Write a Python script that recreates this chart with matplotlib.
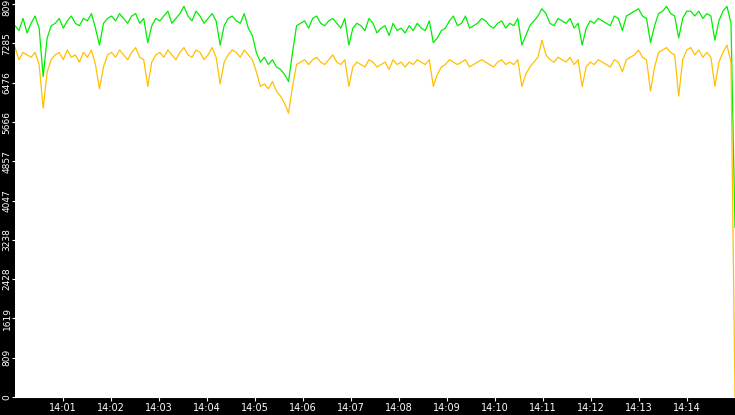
import numpy as np
import matplotlib.pyplot as plt

# samples every 5 s from 14:00:00
orange = [7200, 6950, 7100, 7050, 7000, 7100, 6850, 5950, 6700, 6950,
          7050, 7100, 6950, 7150, 7000, 7050, 6900, 7100, 7000, 7150,
          6850, 6350, 6800, 7050, 7100, 7000, 7150, 7050, 6950, 7100,
          7200, 7000, 6950, 6400, 6900, 7050, 7100, 7000, 7150, 7050,
          6950, 7100, 7200, 7050, 7000, 7150, 7100, 6950, 7050, 7200,
          7000, 6450, 6900, 7050, 7150, 7100, 7000, 7150, 7050, 6950,
          6700, 6400, 6450, 6350, 6500, 6300, 6200, 6050, 5850, 6400,
          6850, 6900, 6950, 6850, 6950, 7000, 6900, 6850, 6950, 7050,
          6900, 6850, 6950, 6400, 6800, 6900, 6850, 6800, 6950, 6900,
          6800, 6850, 6900, 6750, 6950, 6850, 6900, 6800, 6900, 6850,
          6950, 6900, 6850, 6950, 6400, 6650, 6800, 6850, 6950, 6900,
          6850, 6900, 6950, 6800, 6850, 6900, 6950, 6900, 6850, 6800,
          6900, 6950, 6850, 6900, 6850, 6950, 6400, 6650, 6800, 6900,
          7000, 7350, 7050, 6950, 6900, 7000, 6950, 6900, 7000, 6850,
          6950, 6400, 6800, 6900, 6850, 6950, 6900, 6850, 6800, 6950,
          6900, 6700, 6950, 7000, 7050, 7150, 7000, 6950, 6300, 6800,
          7100, 7150, 7200, 7100, 7050, 6200, 6950, 7150, 7200, 7050,
          7150, 7000, 7100, 7000, 6400, 6900, 7100, 7250, 6900, 0]
green = [7650, 7550, 7800, 7500, 7700, 7850, 7600, 6600, 7400, 7650,
         7700, 7800, 7600, 7750, 7850, 7700, 7650, 7800, 7750, 7900,
         7600, 7250, 7700, 7800, 7850, 7750, 7900, 7800, 7700, 7850,
         7900, 7700, 7800, 7300, 7650, 7800, 7750, 7850, 7950, 7700,
         7800, 7900, 8050, 7850, 7750, 7950, 7850, 7700, 7800, 7900,
         7750, 7250, 7650, 7800, 7850, 7750, 7700, 7900, 7600, 7450,
         7100, 6900, 7000, 6850, 6950, 6800, 6750, 6650, 6500, 7100,
         7650, 7700, 7750, 7600, 7800, 7850, 7700, 7650, 7750, 7800,
         7700, 7600, 7800, 7250, 7600, 7700, 7650, 7550, 7800, 7700,
         7500, 7600, 7650, 7450, 7700, 7550, 7600, 7500, 7650, 7550,
         7700, 7600, 7550, 7750, 7300, 7400, 7550, 7600, 7750, 7850,
         7650, 7700, 7850, 7600, 7650, 7700, 7800, 7750, 7650, 7600,
         7700, 7750, 7600, 7700, 7650, 7800, 7250, 7450, 7650, 7750,
         7850, 8000, 7900, 7700, 7650, 7800, 7750, 7700, 7800, 7600,
         7700, 7250, 7600, 7750, 7700, 7800, 7750, 7700, 7650, 7850,
         7800, 7550, 7850, 7900, 7950, 8000, 7850, 7800, 7300, 7650,
         7900, 7950, 8050, 7900, 7850, 7400, 7800, 7950, 7950, 7850,
         7950, 7800, 7900, 7850, 7350, 7750, 7950, 8050, 7700, 3500]
y_ticks = [0, 809, 1619, 2428, 3238, 4047, 4857, 5666, 6476, 7285, 8095]
x_labels = ['14:%02d' % m for m in range(1, 15)]

secs = np.arange(len(green)) * 900 / (len(green) - 1)

fig = plt.figure(figsize=(7.35, 4.15), dpi=100, facecolor='black')
ax = fig.add_axes([15 / 735, 18 / 415, 720 / 735, 397 / 415])
ax.set_facecolor('white')
ax.plot(secs, green, color='#00ee00', linewidth=0.9)
ax.plot(secs, orange, color='#ffc000', linewidth=0.9)

ax.set_xlim(0, 900)
ax.set_ylim(0, 8180)
ax.set_yticks(y_ticks)
ax.set_yticklabels([str(v) for v in y_ticks], rotation=90, va='center')
ax.set_xticks([60 * m for m in range(1, 15)])
ax.set_xticklabels(x_labels)
ax.tick_params(colors='white', labelsize=7, length=3, pad=1)
ax.tick_params(axis='y', labelsize=6.5, length=2, pad=0.5)
for s in ax.spines.values():
    s.set_visible(False)
ax.spines['bottom'].set_visible(True)
ax.spines['bottom'].set_color('white')

fig.savefig('out.png', facecolor='black')
